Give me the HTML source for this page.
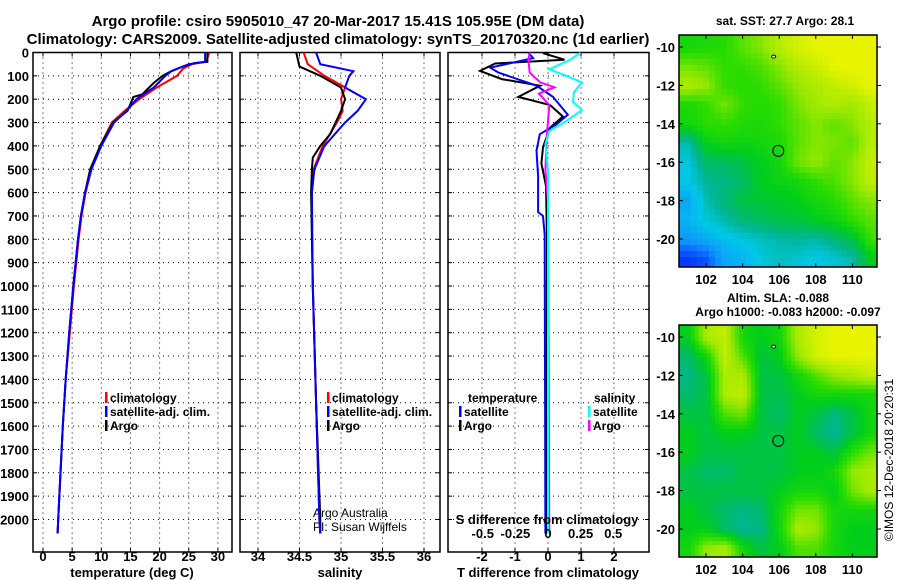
<!DOCTYPE html>
<html><head><meta charset="utf-8"><style>
body{margin:0;background:#fff;}
svg{display:block;font-family:"Liberation Sans",sans-serif;}
.b{font-weight:bold;}
</style></head><body>
<svg id="s" width="900" height="580" viewBox="0 0 900 580">
<text class="b" x="338" y="26" font-size="15" text-anchor="middle">Argo profile: csiro 5905010_47 20-Mar-2017 15.41S 105.95E (DM data)</text>
<text class="b" x="338" y="44" font-size="15" text-anchor="middle">Climatology: CARS2009. Satellite-adjusted climatology: synTS_20170320.nc (1d earlier)</text>
<text class="b" x="785" y="25" font-size="12" text-anchor="middle">sat. SST: 27.7 Argo: 28.1</text>
<text class="b" x="778" y="302" font-size="12" text-anchor="middle">Altim. SLA: -0.088</text>
<text class="b" x="788" y="316" font-size="12" text-anchor="middle">Argo h1000: -0.083 h2000: -0.097</text>
<text x="893" y="460" font-size="12" text-anchor="middle" transform="rotate(-90 893 460)">©IMOS 12-Dec-2018 20:20:31</text>
<text x="313" y="517" font-size="12">Argo Australia</text>
<text x="313" y="531" font-size="12">PI: Susan Wijffels</text>
</svg>
<script>
// ---- profile data ----
const tClimDepth=[0,40,50,70,100,150,200,250,300,350,400,500,600,700,800,1000,1200,1400,1600,1800,2000,2060];
const tClimVal=[28.5,28,25.5,24,23,19.5,16.5,14,11.8,10.8,9.8,8.3,7.3,6.6,6.1,5.3,4.6,3.9,3.4,3.0,2.6,2.5];
const tArgoDepth=[0,40,45,60,80,100,130,180,190,250,300,400,500,600,700,800,1000,1200,1400,1600,1800,2000,2060];
const tArgoVal=[28.2,28.2,26,24,22,20.5,19,17,15.5,14.5,12,9.8,8.1,7.2,6.5,6.0,5.2,4.5,3.9,3.4,3.0,2.6,2.5];
const tSatDepth=[0,40,50,80,100,150,200,250,300,400,500,600,700,800,1000,1200,1400,1600,1800,2000,2060];
const tSatVal=[27.8,27.8,25,22,21,19,16,14.3,12.2,10,8.3,7.2,6.5,6.0,5.2,4.5,3.9,3.4,3.0,2.6,2.5];
const sClimDepth=[0,50,100,150,200,250,300,400,500,600,800,1000,1500,2000,2060];
const sClimVal=[34.55,34.6,34.8,35.05,35.0,35.02,34.95,34.78,34.67,34.65,34.65,34.66,34.7,34.74,34.75];
const sArgoDepth=[0,60,100,150,200,250,350,400,450,500,600,1000,1500,2000,2060];
const sArgoVal=[34.46,34.5,34.75,35.0,35.05,35.0,34.87,34.75,34.66,34.65,34.64,34.66,34.7,34.75,34.75];
const sSatDepth=[0,50,80,100,150,200,250,300,400,500,600,1000,1500,2000,2060];
const sSatVal=[34.7,34.75,35.15,35.1,35.05,35.3,35.2,35.05,34.8,34.68,34.65,34.66,34.7,34.74,34.75];
const dTArgoDepth=[0,3,31,47,79,114,142,190,225,274,322,405,475,572,800,2060];
const dTArgoVal=[0,-0.15,0.5,-1.6,-2.06,-1.4,-0.24,-0.9,0.06,0.45,0.06,-0.15,-0.2,-0.06,-0.03,-0.05];
const dTSatDepth=[0,24,65,86,142,190,267,308,350,420,530,683,700,780,2060];
const dTSatVal=[-0.6,-0.45,-1.75,-1.5,-0.35,0.15,0.6,0.25,-0.25,-0.35,-0.3,-0.3,-0.15,-0.1,-0.08];
const dSArgoDepth=[0,31,86,128,149,176,225,364,503,642,2060];
const dSArgoVal=[-0.14,-0.15,-0.14,-0.06,0.05,-0.07,0.01,-0.01,-0.02,0,0.01];
const dSSatDepth=[0,31,72,100,128,169,211,246,294,336,392,503,2060];
const dSSatVal=[0.25,0.17,0.01,0.14,0.26,0.2,0.19,0.26,0.14,0.01,-0.02,0,0];
const depthTicks=[0,100,200,300,400,500,600,700,800,900,1000,1100,1200,1300,1400,1500,1600,1700,1800,1900,2000];
const tTicks=[0,5,10,15,20,25,30];
const sTicks=[34,34.5,35,35.5,36];
const dTTicks=[-2,-1,0,1,2];
const dSTicks=[-0.5,-0.25,0,0.25,0.5];
// ---- map data (rows = lat -10..-21, cols = lon ~101..111) ----
const sstGrid=[
[0.6,0.62,0.64,0.72,0.78,0.88,0.95,1,1,1,1],
[0.75,0.72,0.66,0.66,0.7,0.78,0.88,0.92,1,1,1],
[0.85,0.8,0.66,0.64,0.66,0.72,0.8,0.86,0.9,0.95,1],
[0.62,0.66,0.75,0.66,0.64,0.66,0.76,0.82,0.86,0.82,0.92],
[0.6,0.65,0.66,0.63,0.62,0.66,0.72,0.78,0.72,0.78,0.88],
[0.38,0.56,0.6,0.58,0.6,0.62,0.72,0.78,0.76,0.72,0.88],
[0.33,0.45,0.46,0.5,0.55,0.6,0.75,0.8,0.72,0.78,0.92],
[0.32,0.4,0.42,0.46,0.55,0.58,0.6,0.66,0.7,0.78,0.9],
[0.25,0.37,0.44,0.5,0.52,0.53,0.56,0.6,0.64,0.72,0.78],
[0.28,0.34,0.38,0.44,0.46,0.5,0.5,0.55,0.58,0.66,0.72],
[0.22,0.26,0.3,0.33,0.36,0.38,0.4,0.38,0.44,0.5,0.68],
[0.08,0.12,0.25,0.28,0.33,0.36,0.34,0.32,0.34,0.38,0.55]];
const slaGrid=[
[0.55,0.85,0.9,0.6,0.55,0.6,0.85,0.95,1,1,1],
[0.45,0.6,0.9,0.7,0.5,0.55,0.8,0.95,1,1,1],
[0.42,0.5,0.85,0.85,0.5,0.5,0.6,0.7,0.8,0.85,0.9],
[0.45,0.5,0.85,0.9,0.5,0.48,0.55,0.6,0.6,0.6,0.6],
[0.5,0.5,0.7,0.75,0.5,0.45,0.55,0.5,0.42,0.5,0.6],
[0.55,0.5,0.55,0.55,0.5,0.5,0.55,0.45,0.4,0.5,0.6],
[0.55,0.5,0.5,0.5,0.5,0.5,0.55,0.55,0.5,0.65,0.75],
[0.5,0.45,0.45,0.5,0.5,0.5,0.55,0.55,0.6,0.8,0.85],
[0.5,0.5,0.5,0.5,0.5,0.55,0.6,0.6,0.55,0.75,0.85],
[0.55,0.5,0.45,0.42,0.45,0.6,0.75,0.75,0.6,0.6,0.6],
[0.55,0.55,0.45,0.4,0.42,0.6,0.85,0.8,0.6,0.55,0.55],
[0.6,0.8,0.85,0.6,0.5,0.55,0.7,0.7,0.6,0.55,0.55]];
const lonTicks=[102,104,106,108,110];
const latTicks=[-10,-12,-14,-16,-18,-20];
const argoPos=[105.95,-15.41];
const prevPos=[105.7,-10.5];

const NS="http://www.w3.org/2000/svg";
const svg=document.getElementById('s');
function mk(tag,at,parent){const e=document.createElementNS(NS,tag);for(const k in at)e.setAttribute(k,at[k]);(parent||svg).appendChild(e);return e;}
const Y0=52.5,PX=0.2335,YB=552;
const yD=d=>Y0+d*PX;

function panel(name,x0,x1,xf,xticks,xlabels){
  const g=mk('g',{});
  
  
  for(const d of depthTicks){const y=yD(d);
    if(d>0){const l=mk('line',{x1:x0,x2:x1,y1:y,y2:y,stroke:'#000','stroke-width':1,'stroke-dasharray':'1 4'},g);
    }
    mk('line',{x1:x0,x2:x0+4,y1:y,y2:y,stroke:'#000'},g);mk('line',{x1:x1-4,x2:x1,y1:y,y2:y,stroke:'#000'},g);}
  for(const t of xticks){const x=xf(t);
    const l=mk('line',{x1:x,x2:x,y1:Y0,y2:YB,stroke:'#000','stroke-width':1,'stroke-dasharray':'1 4'},g);
    
    mk('line',{x1:x,x2:x,y1:YB-4,y2:YB,stroke:'#000'},g);mk('line',{x1:x,x2:x,y1:Y0,y2:Y0+4,stroke:'#000'},g);
    if(xlabels){const tx=mk('text',{x:x,y:561,'font-size':13,'text-anchor':'middle',class:'b'},g);tx.textContent=String(t);
      }}
  const r=mk('rect',{x:x0,y:Y0,width:x1-x0,height:YB-Y0,fill:'none',stroke:'#000','stroke-width':1.5},g);
  
  return g;
}
function line(g,depths,vals,xf,color,name){
  const p=depths.map((d,i)=>xf(vals[i]).toFixed(1)+','+yD(d).toFixed(1)).join(' ');
  const e=mk('polyline',{points:p,fill:'none',stroke:color,'stroke-width':2,'clip-path':'url(#c)'},g);
  
}
for(const d of depthTicks){const t=mk('text',{x:29,y:yD(d)+5,'font-size':13,'text-anchor':'end',class:'b'});t.textContent=d;
  }

const xT=v=>43+v*5.83, xS=v=>258+(v-34)*83, xDT=v=>548+v*33, xDS=v=>548+v*130.5;
const g1=panel('temperature-panel',33,232,xT,tTicks,true);
line(g1,tClimDepth,tClimVal,xT,'#ff0000','temp-climatology-line');
line(g1,tArgoDepth,tArgoVal,xT,'#000000','temp-argo-line');
line(g1,tSatDepth,tSatVal,xT,'#0000ff','temp-satellite-line');
const g2=panel('salinity-panel',240,440,xS,sTicks,true);
line(g2,sClimDepth,sClimVal,xS,'#ff0000','sal-climatology-line');
line(g2,sArgoDepth,sArgoVal,xS,'#000000','sal-argo-line');
line(g2,sSatDepth,sSatVal,xS,'#0000ff','sal-satellite-line');
const g3=panel('difference-panel',448,649,xDT,dTTicks,true);
line(g3,dTArgoDepth,dTArgoVal,xDT,'#000000','tdiff-argo-line');
line(g3,dTSatDepth,dTSatVal,xDT,'#0000ff','tdiff-satellite-line');
line(g3,dSArgoDepth,dSArgoVal,xDS,'#ff00ff','sdiff-argo-line');
line(g3,dSSatDepth,dSSatVal,xDS,'#00ffff','sdiff-satellite-line');
for(const t of dSTicks){const tx=mk('text',{x:xDS(t),y:538,'font-size':13,'text-anchor':'middle',class:'b'});tx.textContent=String(t);
  }
function lbl(x,y,s,name,anchor,size){const t=mk('text',{x:x,y:y,'font-size':size||13,class:'b','text-anchor':anchor||'start'});t.textContent=s;
  return t;}
lbl(547,524,'S difference from climatology','s-diff-axis-title','middle');
lbl(132,577,'temperature (deg C)','temp-axis-title','middle');
lbl(340,577,'salinity','salinity-axis-title','middle');
lbl(548,577,'T difference from climatology','t-diff-axis-title','middle');
function leg(x,y,color,s,name){const r=mk('rect',{x:x,y:y-10,width:2.5,height:11,fill:color});
  
  const t=mk('text',{x:x+5,y:y,'font-size':12,class:'b'});t.textContent=s;
  }
leg(105,402,'#ff0000','climatology','legend-climatology');
leg(105,416,'#0000ff','satellite-adj. clim.','legend-satellite-adj');
leg(105,430,'#000000','Argo','legend-argo');
leg(327,402,'#ff0000','climatology','legend2-climatology');
leg(327,416,'#0000ff','satellite-adj. clim.','legend2-satellite-adj');
leg(327,430,'#000000','Argo','legend2-argo');
lbl(468,402,'temperature','legend-temperature-heading',null,12);
leg(459,416,'#0000ff','satellite','legend-t-satellite');
leg(459,430,'#000000','Argo','legend-t-argo');
lbl(594,402,'salinity','legend-salinity-heading',null,12);
leg(588,416,'#00ffff','satellite','legend-s-satellite');
leg(588,430,'#ff00ff','Argo','legend-s-argo');

// ---- maps ----
const cmStops=[[0,[0,0,255]],[0.2,[16,144,255]],[0.32,[0,200,232]],[0.4,[0,182,150]],[0.47,[0,190,90]],[0.55,[0,206,28]],[0.65,[40,220,0]],[0.8,[150,232,0]],[1,[232,244,0]]];
function cmap(v){v=Math.max(0,Math.min(1,v));for(let i=1;i<cmStops.length;i++){if(v<=cmStops[i][0]){const a=cmStops[i-1],b=cmStops[i],f=(v-a[0])/(b[0]-a[0]);
  return 'rgb('+a[1].map((c,k)=>Math.round(c+(b[1][k]-c)*f)).join(',')+')';}}return 'rgb(232,244,0)';}
function drawMap(name,grid,top,bottom,latAt10,step){
  const L=679,R=877;
  const lonX=lon=>706+(lon-102)*18.3, latY=lat=>latAt10+(-10-lat)*19.2;
  const g=mk('g',{});
  const rows=grid.length,cols=grid[0].length;
  for(let y=top;y<bottom;y+=step){for(let x=L;x<R;x+=step){
    const lon=100.5+(x+step/2-L)/18.3, lat=-10-((y+step/2)-latAt10)/19.2;
    let fc=Math.max(0,Math.min(cols-1,lon-101)), fr=Math.max(0,Math.min(rows-1,-10-lat));
    const c0=Math.floor(fc),r0=Math.floor(fr),c1=Math.min(cols-1,c0+1),r1=Math.min(rows-1,r0+1),dc=fc-c0,dr=fr-r0;
    const v=grid[r0][c0]*(1-dc)*(1-dr)+grid[r0][c1]*dc*(1-dr)+grid[r1][c0]*(1-dc)*dr+grid[r1][c1]*dc*dr;
    mk('rect',{x:x,y:y,width:Math.min(step,R-x),height:Math.min(step,bottom-y),fill:cmap(v)},g);}}
  const fr=mk('rect',{x:L,y:top,width:R-L,height:bottom-top,fill:'none',stroke:'#000','stroke-width':1.5},g);
  
  for(const t of lonTicks){const x=lonX(t);mk('line',{x1:x,x2:x,y1:bottom,y2:bottom-4,stroke:'#000'},g);mk('line',{x1:x,x2:x,y1:top,y2:top+4,stroke:'#000'},g);
    const tx=mk('text',{x:x,y:bottom+17,'font-size':13,'text-anchor':'middle',class:'b'},g);tx.textContent=t;
    }
  for(const t of latTicks){const y=latY(t);mk('line',{x1:L,x2:L+4,y1:y,y2:y,stroke:'#000'},g);mk('line',{x1:R,x2:R+4,y1:y,y2:y,stroke:'#000'},g);
    const tx=mk('text',{x:675,y:y+5,'font-size':13,'text-anchor':'end',class:'b'},g);tx.textContent=t;
    }
  const c=mk('circle',{cx:lonX(argoPos[0]),cy:latY(argoPos[1]),r:5.5,fill:'none',stroke:'#000','stroke-width':1},g);
  
  const p=mk('ellipse',{cx:lonX(prevPos[0]),cy:latY(prevPos[1]),rx:2,ry:1.5,fill:'#fff',stroke:'#000','stroke-width':1},g);
  
}
const defs=mk('defs',{});const cp=mk('clipPath',{id:'c'},defs);mk('rect',{x:0,y:Y0,width:680,height:YB-Y0},cp);
drawMap('sst-map',sstGrid,35,267,47,6);
drawMap('sla-map',slaGrid,325,557,337,4);
</script>
</body></html>
